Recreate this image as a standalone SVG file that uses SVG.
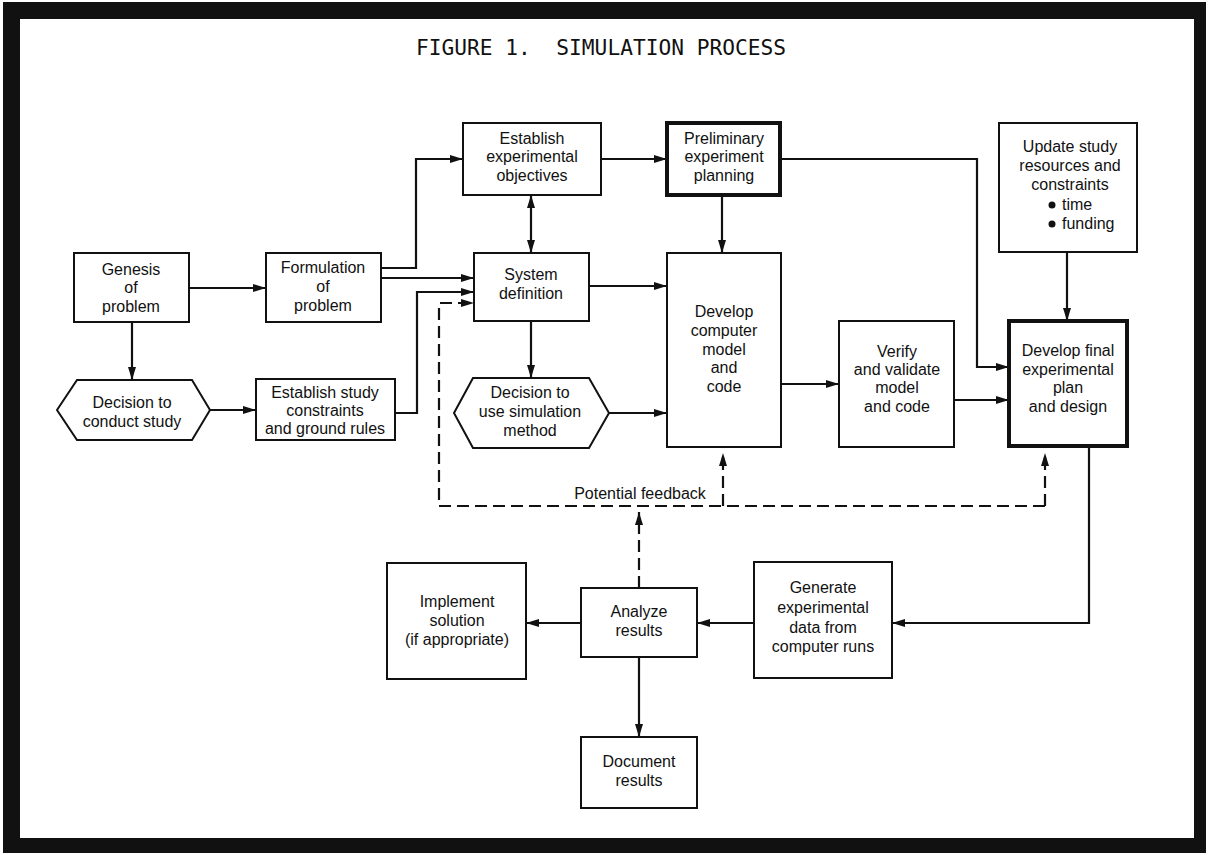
<svg xmlns="http://www.w3.org/2000/svg" width="1208" height="855" viewBox="0 0 1208 855">
<style>
.box{fill:#fff;stroke:#111;stroke-width:2}
.thick{stroke-width:4}
.ln{fill:none;stroke:#111;stroke-width:2.2}
.dash{stroke-dasharray:12 6}
.t{font-family:"Liberation Sans",Arial,sans-serif;font-size:16px;fill:#111;text-anchor:middle}
.tl{font-family:"Liberation Sans",Arial,sans-serif;font-size:16px;fill:#111}
.title{font-family:"DejaVu Sans Mono","Liberation Mono",monospace;font-size:22px;fill:#111;white-space:pre}
</style>
<defs>
<marker id="ah" viewBox="0 0 13 8" refX="13" refY="4" markerWidth="13" markerHeight="8" markerUnits="userSpaceOnUse" orient="auto-start-reverse"><path d="M0,0 L13,4 L0,8 z" fill="#111"/></marker>
</defs>
<rect width="1208" height="855" fill="#fff"/>
<path d="M3,2 H1206 V853 H3 Z M20,19 V838 H1194 V19 Z" fill="#111" fill-rule="evenodd"/>
<text class="title" x="416" y="55" textLength="370" lengthAdjust="spacingAndGlyphs" xml:space="preserve">FIGURE 1.  SIMULATION PROCESS</text>

<g id="connectors">
<path class="ln" d="M189,288 H266" marker-end="url(#ah)"/>
<path class="ln" d="M132,322 V380" marker-end="url(#ah)"/>
<path class="ln" d="M210,410 H256" marker-end="url(#ah)"/>
<path class="ln" d="M381,268 H416 V159 H463" marker-end="url(#ah)"/>
<path class="ln" d="M381,278 H474" marker-end="url(#ah)"/>
<path class="ln" d="M395,413 H417 V292 H474" marker-end="url(#ah)"/>
<path class="ln" d="M531,195 V253" marker-start="url(#ah)" marker-end="url(#ah)"/>
<path class="ln" d="M601,159 H667" marker-end="url(#ah)"/>
<path class="ln" d="M722,195 V253" marker-end="url(#ah)"/>
<path class="ln" d="M780,159 H977 V367 H1009" marker-end="url(#ah)"/>
<path class="ln" d="M589,286 H667" marker-end="url(#ah)"/>
<path class="ln" d="M531,321 V378" marker-end="url(#ah)"/>
<path class="ln" d="M609,413 H667" marker-end="url(#ah)"/>
<path class="ln" d="M781,384 H839" marker-end="url(#ah)"/>
<path class="ln" d="M954,400 H1009" marker-end="url(#ah)"/>
<path class="ln" d="M1067,252 V321" marker-end="url(#ah)"/>
<path class="ln" d="M1089,446 V623 H892" marker-end="url(#ah)"/>
<path class="ln" d="M754,623 H697" marker-end="url(#ah)"/>
<path class="ln" d="M581,623 H526" marker-end="url(#ah)"/>
<path class="ln" d="M639,657 V737" marker-end="url(#ah)"/>
<path class="ln dash" d="M1045,506 H439 V303 H474" marker-end="url(#ah)"/>
<path class="ln dash" d="M1045,506 V453" marker-end="url(#ah)"/>
<path class="ln dash" d="M723,506 V453" marker-end="url(#ah)"/>
<path class="ln dash" d="M639,588 V512" marker-end="url(#ah)"/>
<text class="t" x="640" y="499">Potential feedback</text>
</g>

<g id="genesis">
<rect class="box" x="74" y="253" width="115" height="69"/>
<text class="t" x="131" y="275">Genesis</text>
<text class="t" x="131" y="293">of</text>
<text class="t" x="131" y="312">problem</text>
</g>
<g id="formulation">
<rect class="box" x="266" y="253" width="115" height="69"/>
<text class="t" x="323" y="273">Formulation</text>
<text class="t" x="323" y="292">of</text>
<text class="t" x="323" y="311">problem</text>
</g>
<g id="decision-conduct">
<polygon class="box" points="57,410 77,380 192,380 210,410 192,440 77,440"/>
<text class="t" x="132" y="408">Decision to</text>
<text class="t" x="132" y="427">conduct study</text>
</g>
<g id="study-constraints">
<rect class="box" x="256" y="379" width="139" height="61"/>
<text class="t" x="325" y="398">Establish study</text>
<text class="t" x="325" y="416">constraints</text>
<text class="t" x="325" y="434">and ground rules</text>
</g>
<g id="exp-objectives">
<rect class="box" x="463" y="123" width="138" height="72"/>
<text class="t" x="532" y="144">Establish</text>
<text class="t" x="532" y="162">experimental</text>
<text class="t" x="532" y="181">objectives</text>
</g>
<g id="preliminary">
<rect class="box thick" x="667" y="123" width="113" height="72"/>
<text class="t" x="724" y="144">Preliminary</text>
<text class="t" x="724" y="162">experiment</text>
<text class="t" x="724" y="181">planning</text>
</g>
<g id="system-definition">
<rect class="box" x="474" y="253" width="115" height="68"/>
<text class="t" x="531" y="280">System</text>
<text class="t" x="531" y="299">definition</text>
</g>
<g id="decision-simulation">
<polygon class="box" points="454,413 473,378 589,378 609,413 589,448 473,448"/>
<text class="t" x="530" y="398">Decision to</text>
<text class="t" x="530" y="417">use simulation</text>
<text class="t" x="530" y="436">method</text>
</g>
<g id="develop-model">
<rect class="box" x="667" y="253" width="114" height="194"/>
<text class="t" x="724" y="317">Develop</text>
<text class="t" x="724" y="336">computer</text>
<text class="t" x="724" y="355">model</text>
<text class="t" x="724" y="373">and</text>
<text class="t" x="724" y="392">code</text>
</g>
<g id="verify">
<rect class="box" x="839" y="321" width="115" height="126"/>
<text class="t" x="897" y="357">Verify</text>
<text class="t" x="897" y="375">and validate</text>
<text class="t" x="897" y="393">model</text>
<text class="t" x="897" y="412">and code</text>
</g>
<g id="update-resources">
<rect class="box" x="999" y="123" width="138" height="129"/>
<text class="t" x="1070" y="152">Update study</text>
<text class="t" x="1070" y="171">resources and</text>
<text class="t" x="1070" y="190">constraints</text>
<circle cx="1052" cy="205" r="3.5" fill="#111"/>
<text class="tl" x="1062" y="210">time</text>
<circle cx="1052" cy="224" r="3.5" fill="#111"/>
<text class="tl" x="1062" y="229">funding</text>
</g>
<g id="develop-final">
<rect class="box thick" x="1009" y="321" width="118" height="125"/>
<text class="t" x="1068" y="356">Develop final</text>
<text class="t" x="1068" y="375">experimental</text>
<text class="t" x="1068" y="393">plan</text>
<text class="t" x="1068" y="412">and design</text>
</g>
<g id="generate">
<rect class="box" x="754" y="562" width="138" height="116"/>
<text class="t" x="823" y="593">Generate</text>
<text class="t" x="823" y="613">experimental</text>
<text class="t" x="823" y="633">data from</text>
<text class="t" x="823" y="652">computer runs</text>
</g>
<g id="analyze">
<rect class="box" x="581" y="588" width="116" height="69"/>
<text class="t" x="639" y="617">Analyze</text>
<text class="t" x="639" y="636">results</text>
</g>
<g id="implement">
<rect class="box" x="387" y="563" width="139" height="116"/>
<text class="t" x="457" y="607">Implement</text>
<text class="t" x="457" y="626">solution</text>
<text class="t" x="457" y="645">(if appropriate)</text>
</g>
<g id="document">
<rect class="box" x="581" y="737" width="116" height="71"/>
<text class="t" x="639" y="767">Document</text>
<text class="t" x="639" y="786">results</text>
</g>
</svg>
